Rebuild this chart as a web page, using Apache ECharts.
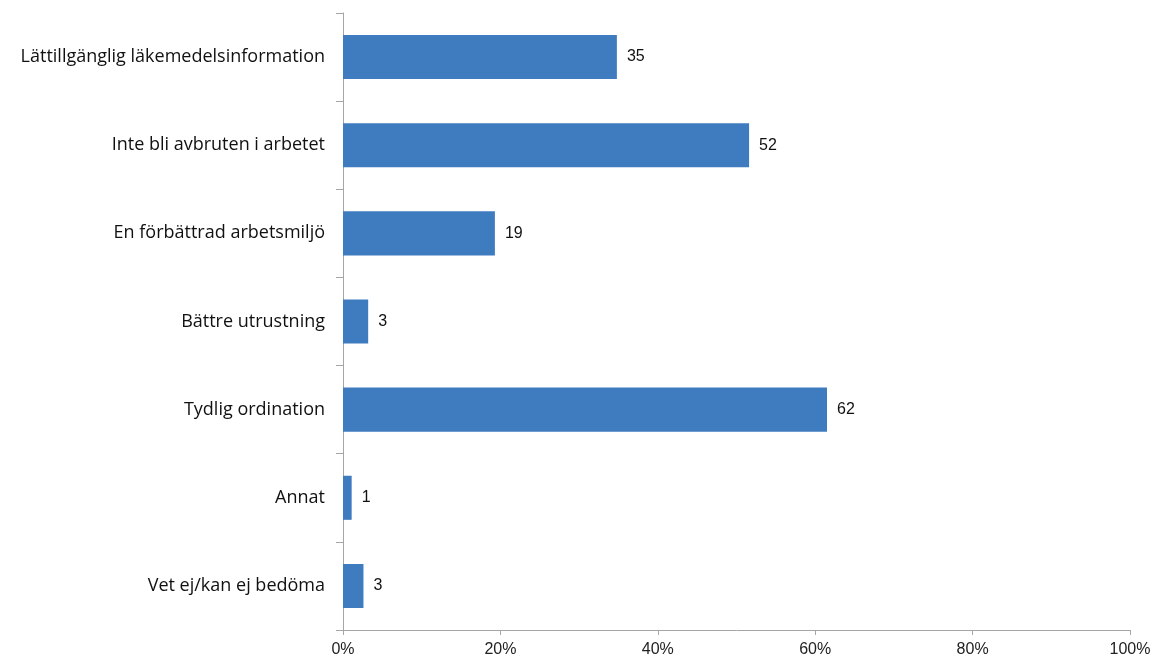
<!DOCTYPE html>
<html><head><meta charset="utf-8">
<script src="https://cdn.jsdelivr.net/npm/echarts@6/dist/echarts.min.js"></script>
<style>html,body{margin:0;padding:0;background:#fff}#c{width:1156px;height:663px}</style>
</head><body><div id="c"></div>
<script>
const categories = ["Lättillgänglig läkemedelsinformation","Inte bli avbruten i arbetet","En förbättrad arbetsmiljö","Bättre utrustning","Tydlig ordination","Annat","Vet ej/kan ej bedöma"];
const values = [34.8, 51.6, 19.3, 3.2, 61.5, 1.1, 2.6];
const valueLabels = ["35","52","19","3","62","1","3"];
const xTicks = [0, 20, 40, 60, 80, 100];

const chart = echarts.init(document.getElementById('c'), null, {renderer:'canvas'});
chart.setOption({
  animation:false,
  grid:{left:343, right:26, top:13, bottom:33, containLabel:false},
  xAxis:{type:'value', min:xTicks[0], max:xTicks[xTicks.length-1], interval:20,
    axisLine:{show:true, lineStyle:{color:'#a6a6a6', width:1}},
    axisTick:{show:true, length:5, lineStyle:{color:'#a6a6a6'}},
    splitLine:{show:false},
    axisLabel:{formatter:v=>v+'%', color:'#222', fontSize:16, fontFamily:"'Liberation Sans', Arial, sans-serif", margin:12}
  },
  yAxis:{type:'category', data:categories, inverse:true,
    axisLine:{show:true, lineStyle:{color:'#a6a6a6', width:1}},
    axisTick:{show:true, length:7, lineStyle:{color:'#a6a6a6'}},
    axisLabel:{color:'#111', fontSize:18, fontFamily:"'Open Sans', sans-serif", margin:18}
  },
  series:[{type:'bar', data:values, barWidth:'50%',
    itemStyle:{color:'#3f7bbf'},
    label:{show:true, position:'right', distance:10, color:'#111', fontSize:16, fontFamily:"'Liberation Sans', Arial, sans-serif",
      formatter:p=>valueLabels[p.dataIndex]}
  }]
});
</script></body></html>
